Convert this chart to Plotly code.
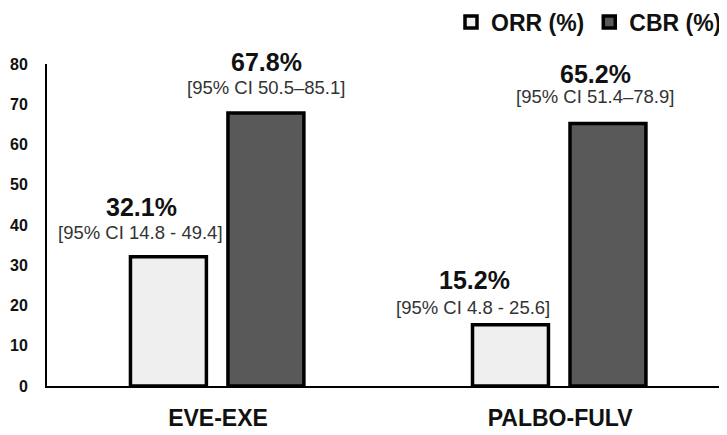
import plotly.graph_objects as go

categories = ["EVE-EXE", "PALBO-FULV"]
orr_values = [32.1, 15.2]
cbr_values = [67.8, 65.2]
orr_labels = ["32.1%", "15.2%"]
cbr_labels = ["67.8%", "65.2%"]
orr_ci = ["[95% CI 14.8 - 49.4]", "[95% CI 4.8 - 25.6]"]
cbr_ci = ["[95% CI 50.5\u201385.1]", "[95% CI 51.4\u201378.9]"]
y_ticks = [0, 10, 20, 30, 40, 50, 60, 70, 80]

FONT = "Liberation Sans, Arial, sans-serif"
BAR_W = 0.222

fig = go.Figure()
fig.add_trace(go.Bar(
    x=categories, y=orr_values, name="ORR (%)",
    width=[BAR_W] * 2, offset=[-0.256] * 2,
    marker=dict(color="#efefef", line=dict(color="#000000", width=3.5)),
))
fig.add_trace(go.Bar(
    x=categories, y=cbr_values, name="CBR (%)",
    width=[BAR_W] * 2, offset=[0.029] * 2,
    marker=dict(color="#595959", line=dict(color="#000000", width=3.5)),
))

# annotation pixel shifts relative to category centre (style only)
orr_lab_dx = [-77, -86]
orr_lab_dy = [50, 45]
orr_ci_dy = [24, 17]
cbr_lab_dx = [48, 35]
cbr_lab_dy = [51, 50]
cbr_ci_dy = [26, 27]

for i, c in enumerate(categories):
    fig.add_annotation(x=c, y=orr_values[i], xref="x", yref="y", text=f"<b>{orr_labels[i]}</b>",
                       showarrow=False, xshift=orr_lab_dx[i], yshift=orr_lab_dy[i],
                       font=dict(family=FONT, size=25, color="#111111"))
    fig.add_annotation(x=c, y=orr_values[i], xref="x", yref="y", text=orr_ci[i],
                       showarrow=False, xshift=orr_lab_dx[i] - 1, yshift=orr_ci_dy[i],
                       font=dict(family=FONT, size=18.5, color="#333333"))
    fig.add_annotation(x=c, y=cbr_values[i], xref="x", yref="y", text=f"<b>{cbr_labels[i]}</b>",
                       showarrow=False, xshift=cbr_lab_dx[i], yshift=cbr_lab_dy[i],
                       font=dict(family=FONT, size=25, color="#111111"))
    fig.add_annotation(x=c, y=cbr_values[i], xref="x", yref="y", text=cbr_ci[i],
                       showarrow=False, xshift=cbr_lab_dx[i], yshift=cbr_ci_dy[i],
                       font=dict(family=FONT, size=18.5, color="#333333"))

fig.update_layout(
    width=719, height=427,
    margin=dict(l=39, r=0, t=56, b=49, autoexpand=False),
    paper_bgcolor="white", plot_bgcolor="white",
    barmode="overlay",
    font=dict(family=FONT, color="#111111"),
    legend=dict(orientation="h", x=1.0, xanchor="right", y=1.13, yref="paper", yanchor="middle",
                font=dict(family=FONT, size=23, color="#111111", weight="bold"), itemwidth=30,
                traceorder="normal"),
    xaxis=dict(range=[-0.5, 1.488], showline=True, linecolor="#000000", linewidth=2,
               showgrid=False, zeroline=False, ticks="", automargin=False,
               tickfont=dict(family=FONT, size=23, color="#111111", weight="bold"),
               ticklabelstandoff=10),
    yaxis=dict(range=[0, 80], tickvals=y_ticks, showline=True, linecolor="#000000", linewidth=2,
               showgrid=False, zeroline=False, ticks="", automargin=False,
               tickfont=dict(family=FONT, size=16, color="#111111", weight="bold"),
               ticklabelstandoff=14),
)

fig.write_html("out.html")
